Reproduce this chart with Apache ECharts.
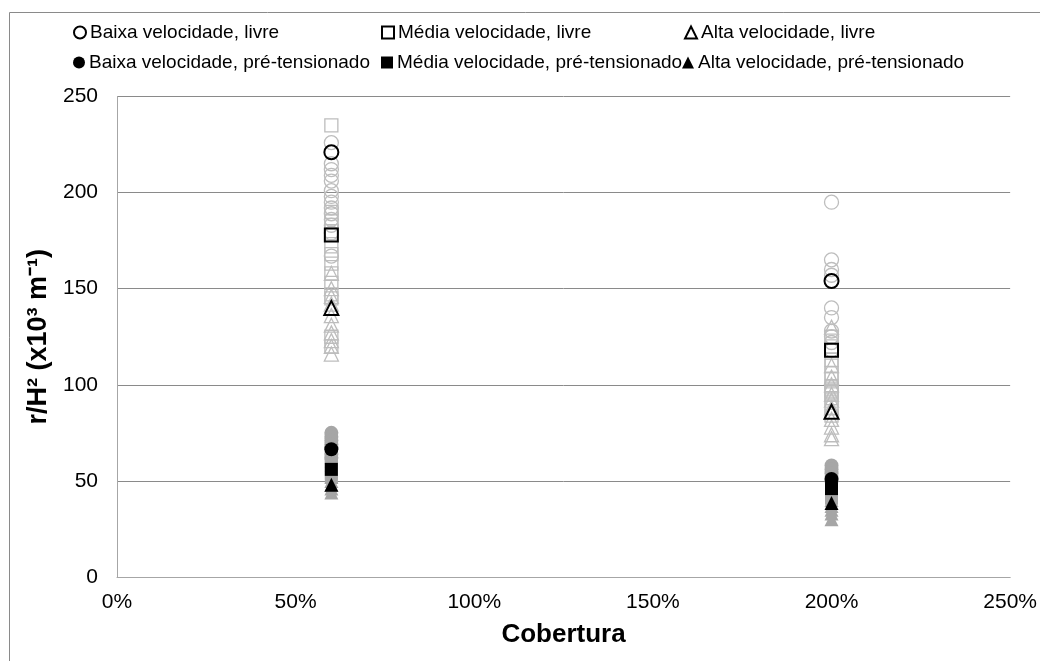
<!DOCTYPE html>
<html>
<head>
<meta charset="utf-8">
<script src="https://cdn.jsdelivr.net/npm/echarts@6/dist/echarts.min.js"></script>
<style>
html,body{margin:0;padding:0;background:#fff;}
#chart{width:1040px;height:661px;}
</style>
</head>
<body>
<div id="chart"></div>
<script>
// Cobertura (x, %) positions
const coberturas = [60, 200];
const xTicks = [0, 50, 100, 150, 200, 250];
const yTicks = [0, 50, 100, 150, 200, 250];

// Individual results (grey), free (livre)
const baixaLivre_60  = [226, 215, 212, 209, 206, 201, 198, 195, 192, 189, 186, 183, 179, 167];
const baixaLivre_200 = [195, 165, 160, 157, 140, 135, 128, 125, 122, 118];
const mediaLivre_60  = [235, 190, 185, 180, 172, 168, 163, 158, 153, 147, 145, 125, 120];
const mediaLivre_200 = [125, 120, 113, 110, 106, 103, 99, 98, 97, 96, 95, 93, 88, 84];
const altaLivre_60   = [158, 150, 146, 142, 136, 131, 127, 123, 120, 116];
const altaLivre_200  = [130, 110, 104, 100, 95, 92, 88, 82, 78, 74, 72];

// Individual results (grey), pre-tensioned
const baixaPre_60  = [75, 73, 71, 69, 67, 64, 62];
const baixaPre_200 = [58, 56, 54, 52, 50];
const mediaPre_60  = [62, 60, 58, 56, 54, 52];
const mediaPre_200 = [50, 47, 45, 43, 41];
const altaPre_60   = [52, 50, 48, 46, 44];
const altaPre_200  = [40, 37, 35, 33, 30];

// Means (black), values at [60%, 200%]
const baixaLivreMean = [221, 154];
const mediaLivreMean = [178, 118];
const altaLivreMean  = [140, 86];
const baixaPreMean   = [66.5, 51];
const mediaPreMean   = [56, 46];
const altaPreMean    = [48, 38.5];

const legendNames = [
  'Baixa velocidade, livre', 'Média velocidade, livre', 'Alta velocidade, livre',
  'Baixa velocidade, pré-tensionado', 'Média velocidade, pré-tensionado', 'Alta velocidade, pré-tensionado'
];

function pts(a60, a200) {
  return a60.map(v => [coberturas[0], v]).concat(a200.map(v => [coberturas[1], v]));
}
function meanPts(m) { return m.map((v, i) => [coberturas[i], v]); }

const GREY_LINE = '#bdbdbd';
const GREY_FILL = '#a6a6a6';

function hollow(name, symbol, size, data, color, bw, z) {
  return { name, type: 'scatter', symbol, symbolSize: size, data, z,
    itemStyle: { color: 'rgba(255,255,255,0)', borderColor: color, borderWidth: bw, opacity: 1 },
    emphasis: { disabled: true }, silent: true };
}
function filled(name, symbol, size, data, color, z) {
  return { name, type: 'scatter', symbol, symbolSize: size, data, z,
    itemStyle: { color, borderWidth: 0, opacity: 1 },
    emphasis: { disabled: true }, silent: true };
}

const series = [
  hollow('g1', 'circle', 14, pts(baixaLivre_60, baixaLivre_200), GREY_LINE, 1.3, 1),
  hollow('g2', 'rect', 13, pts(mediaLivre_60, mediaLivre_200), GREY_LINE, 1.3, 1),
  hollow('g3', 'triangle', [14, 14], pts(altaLivre_60, altaLivre_200), GREY_LINE, 1.3, 1),
  filled('g4', 'circle', 14, pts(baixaPre_60, baixaPre_200), GREY_FILL, 2),
  filled('g5', 'rect', 13, pts(mediaPre_60, mediaPre_200), GREY_FILL, 2),
  filled('g6', 'triangle', [14, 14], pts(altaPre_60, altaPre_200), GREY_FILL, 2),
  hollow(legendNames[0], 'circle', 14, meanPts(baixaLivreMean), '#000', 2, 5),
  hollow(legendNames[1], 'rect', 13, meanPts(mediaLivreMean), '#000', 2, 5),
  hollow(legendNames[2], 'triangle', [14, 14], meanPts(altaLivreMean), '#000', 2, 5),
  filled(legendNames[3], 'circle', 14, meanPts(baixaPreMean), '#000', 5),
  filled(legendNames[4], 'rect', 13, meanPts(mediaPreMean), '#000', 5),
  filled(legendNames[5], 'triangle', [14, 14], meanPts(altaPreMean), '#000', 5)
];

const legendPos = [[73, 23], [381, 23], [684, 23], [73, 53], [381, 53], [682, 53]];
const legends = legendNames.map((n, i) => ({
  data: [n], left: legendPos[i][0], top: legendPos[i][1], padding: 0,
  itemWidth: 12, itemHeight: 12, itemGap: 0, selectedMode: false,
  textStyle: { fontFamily: 'Liberation Sans', fontSize: 19, color: '#000', padding: [0, 0, 0, -1] }
}));

const chart = echarts.init(document.getElementById('chart'), null, { renderer: 'canvas' });
chart.setOption({
  animation: false,
  backgroundColor: '#fff',
  legend: legends,
  graphic: [{ type: 'rect', shape: { x: 9.5, y: 12.5, width: 1200, height: 800 },
    style: { fill: 'none', stroke: '#8a8a8a', lineWidth: 1 }, silent: true }],
  grid: { left: 117, right: 28, top: 96.5, bottom: 84, containLabel: false },
  xAxis: {
    type: 'value', min: xTicks[0], max: xTicks[xTicks.length - 1], interval: 50,
    name: 'Cobertura', nameLocation: 'middle', nameGap: 45,
    nameTextStyle: { fontFamily: 'Liberation Sans', fontSize: 26, fontWeight: 'bold', color: '#000' },
    axisLine: { show: true, lineStyle: { color: '#a6a6a6', width: 1 } },
    axisTick: { show: false }, splitLine: { show: false },
    axisLabel: { formatter: '{value}%', fontFamily: 'Liberation Sans', fontSize: 21, color: '#000', margin: 15 }
  },
  yAxis: {
    type: 'value', min: yTicks[0], max: yTicks[yTicks.length - 1], interval: 50,
    name: 'r/H² (x10³ m⁻¹)', nameLocation: 'middle', nameGap: 62, nameRotate: 90,
    nameTextStyle: { fontFamily: 'Liberation Sans', fontSize: 27, fontWeight: 'bold', color: '#000' },
    axisLine: { show: true, lineStyle: { color: '#a6a6a6', width: 1 } },
    axisTick: { show: false },
    splitLine: { show: true, lineStyle: { color: '#8a8a8a', width: 1 } },
    axisLabel: { fontFamily: 'Liberation Sans', fontSize: 21, color: '#000', margin: 19 }
  },
  series
});
</script>
</body>
</html>
